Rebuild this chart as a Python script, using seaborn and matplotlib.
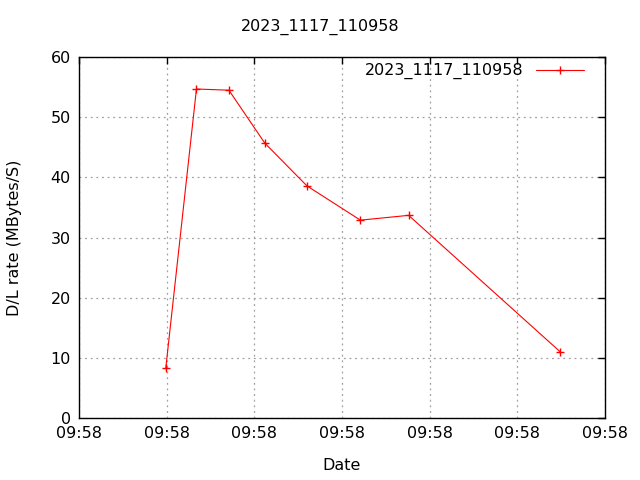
import pandas as pd
import matplotlib
matplotlib.use('Agg')
import matplotlib.pyplot as plt
import matplotlib.dates as mdates
import seaborn as sns

# seconds after 09:58:00 and download rate
secs = [4.95, 6.7, 8.55, 10.6, 13.0, 16.05, 18.8, 27.45]
rates = [8.3, 54.7, 54.5, 45.7, 38.6, 32.9, 33.7, 11.0]
series_name = '2023_1117_110958'

base = pd.Timestamp('2023-11-17 09:58:00')
df = pd.DataFrame({
    'Date': [base + pd.Timedelta(seconds=s) for s in secs],
    'rate': rates,
})

sns.set_style('white')
plt.rcParams['font.family'] = ['DejaVu Sans']
plt.rcParams['text.color'] = 'black'
plt.rcParams['axes.labelcolor'] = 'black'

fig = plt.figure(figsize=(6.4, 4.8), dpi=100)
ax = fig.add_axes([0.1234, 0.129, 0.8219, 0.752])

sns.lineplot(data=df, x='Date', y='rate', color='red', linewidth=0.8,
             marker='+', markersize=6, markeredgewidth=1, mec='red',
             label=series_name, ax=ax)

ax.set_xlim(base, base + pd.Timedelta(seconds=30))
ax.set_ylim(0, 60)
ax.xaxis.set_major_locator(mdates.SecondLocator(bysecond=range(0, 60, 5)))
ax.xaxis.set_major_formatter(mdates.DateFormatter('%H:%M'))
ax.set_yticks(range(0, 61, 10))

ax.grid(True, color='#a0a0a0', linestyle=(0, (1.5, 3)), linewidth=0.9)
ax.tick_params(direction='in', top=True, right=True, length=5, width=1,
               labelsize=11.5, pad=6, colors='black')
for sp in ax.spines.values():
    sp.set_color('black')
    sp.set_linewidth(1)

ax.set_xlabel('Date', fontsize=11.5, labelpad=12, color='black')
ax.set_ylabel('D/L rate (MBytes/S)', fontsize=11.5, labelpad=20, color='black')
fig.suptitle(series_name, fontsize=11.5, y=0.96, color='black')

ax.legend(loc='upper right', frameon=False, markerfirst=False, fontsize=11.5,
          handlelength=3.0, borderaxespad=0.3, bbox_to_anchor=(0.981, 1.014))

plt.savefig('out.png', dpi=100)
plt.close()
